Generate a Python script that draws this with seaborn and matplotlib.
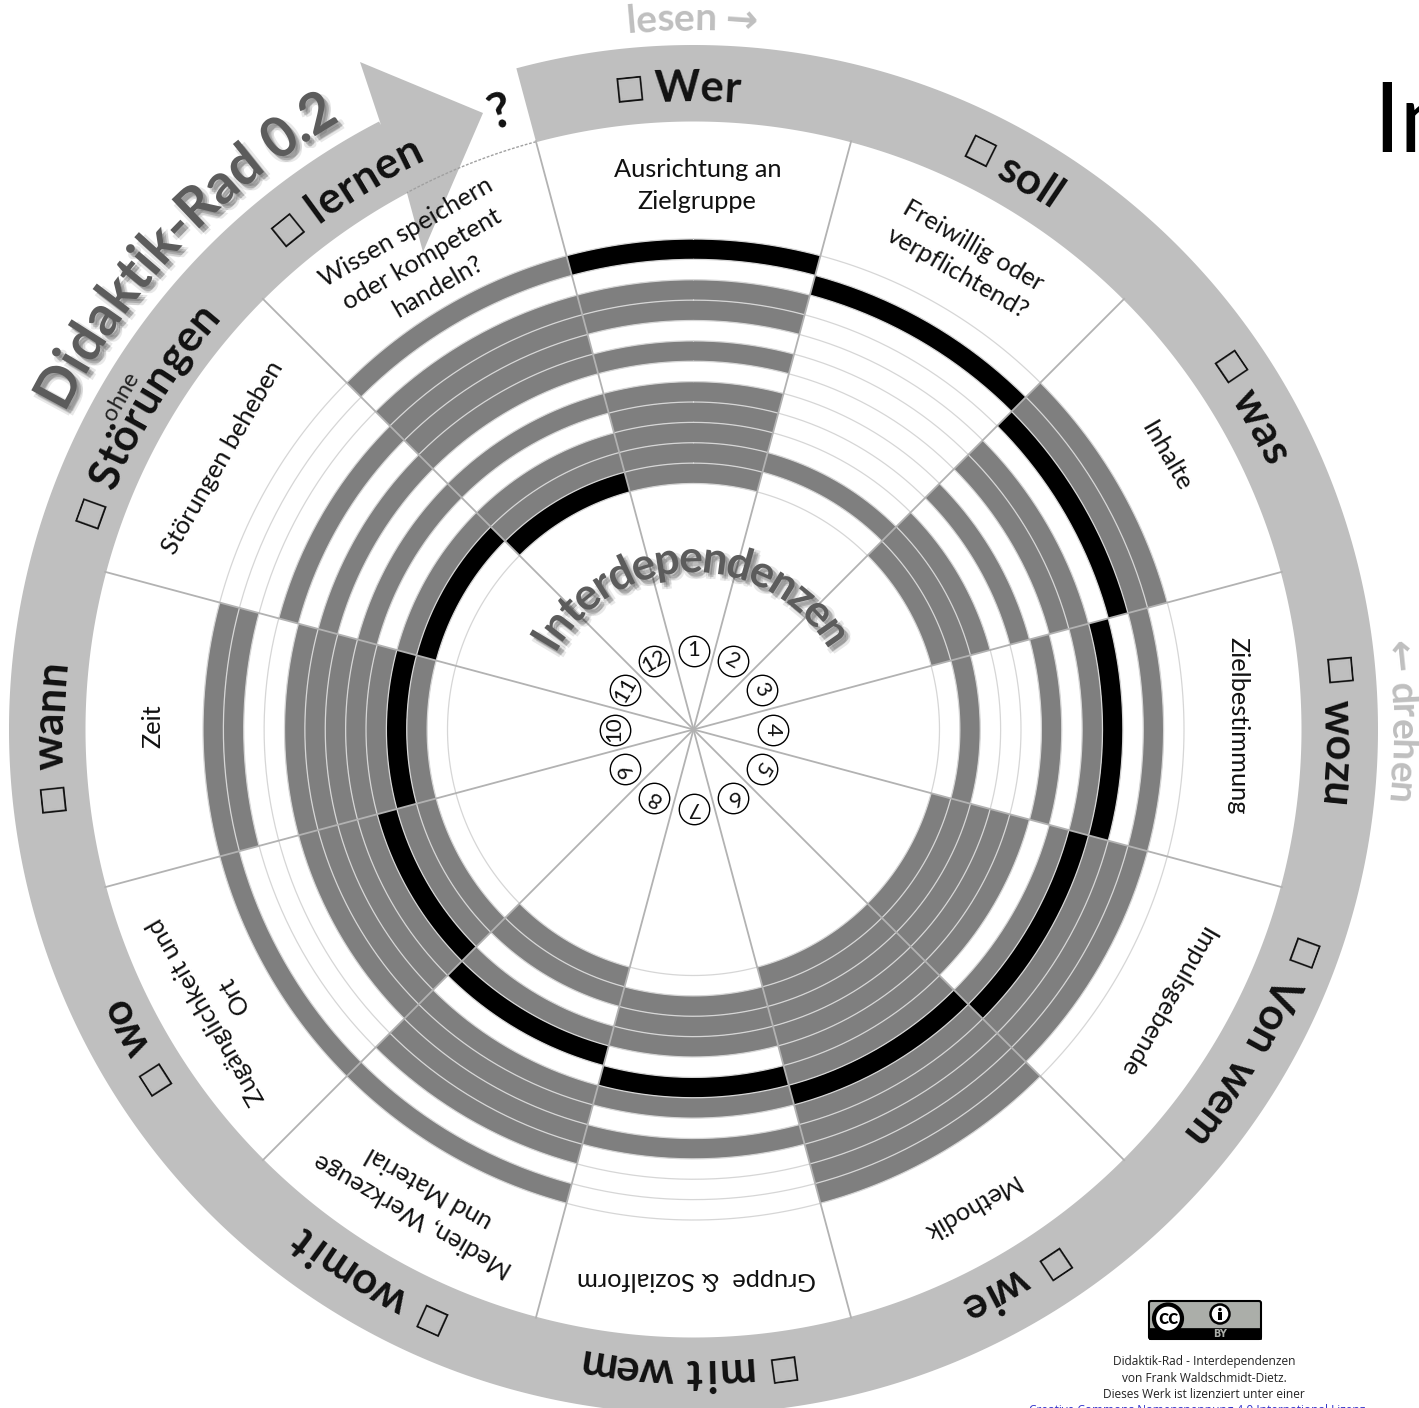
import numpy as np
import pandas as pd
import matplotlib
matplotlib.use("Agg")
import matplotlib.pyplot as plt
import matplotlib.patheffects as pe
from matplotlib.patches import FancyBboxPatch, Circle, Rectangle
from matplotlib import font_manager as fm
from matplotlib.ft2font import LoadFlags
import seaborn as sns

# ---------- data ----------
sector_keys = ["Wer", "soll", "was", "wozu", "Von wem", "wie", "mit wem", "womit", "wo", "wann", "Störungen", "lernen"]
sector_texts = ["Ausrichtung an\nZielgruppe", "Freiwillig oder\nverpflichtend?", "Inhalte", "Zielbestimmung",
                "Impulsgebende", "Methodik", "Gruppe  & Sozialform", "Medien, Werkzeuge\nund Material",
                "Zugänglichkeit und\nOrt", "Zeit", "Störungen beheben", "Wissen speichern\noder kompetent\nhandeln?"]
# ring 0 = outermost ... ring 11 = innermost; 0 none, 1 related (grey), 2 self (black)
wer     = [2, 0, 1, 1, 0, 1, 0, 1, 1, 1, 1, 1]
soll    = [0, 2, 0, 0, 0, 0, 0, 0, 0, 0, 1, 0]
was     = [1, 1, 2, 0, 1, 1, 0, 1, 0, 1, 1, 1]
wozu    = [0, 1, 0, 2, 1, 0, 1, 0, 0, 0, 1, 0]
von_wem = [0, 1, 1, 1, 2, 1, 0, 1, 1, 1, 1, 1]
wie     = [1, 1, 1, 1, 1, 2, 1, 1, 1, 1, 1, 1]
mit_wem = [0, 0, 0, 1, 0, 1, 2, 0, 1, 1, 1, 0]
womit   = [1, 0, 1, 1, 1, 1, 0, 2, 1, 0, 1, 1]
wo      = [1, 0, 0, 0, 1, 1, 1, 1, 2, 1, 1, 0]
wann    = [1, 1, 0, 0, 1, 1, 1, 1, 1, 2, 1, 0]
stoer   = [0, 0, 0, 1, 0, 1, 0, 1, 0, 1, 2, 0]
lernen  = [1, 0, 1, 1, 1, 1, 0, 1, 0, 1, 1, 2]
matrix = [wer, soll, was, wozu, von_wem, wie, mit_wem, womit, wo, wann, stoer, lernen]
badge_numbers = list(range(1, 13))

# ---------- set-up ----------
W, H = 1419, 1408
CX, CY, RMAX = 693.5, 729.5, 760
sns.set_theme(style="white")
plt.rcParams["font.family"] = ["Lato", "DejaVu Sans"]
DPI = 100
fig = plt.figure(figsize=(W / DPI, H / DPI), dpi=DPI, facecolor="white")
ax = fig.add_axes([(CX - RMAX) / W, (H - CY - RMAX) / H, 2 * RMAX / W, 2 * RMAX / H], projection="polar")
ax.set_theta_zero_location("N")
ax.set_theta_direction(-1)

GREY, BLACK, BAND, SPOKE, GRID = "#7f7f7f", "#000000", "#bfbfbf", "#b2b2b2", "#d6d6d6"
R_OUT, R_IN, N = 490.5, 246.0, 12
RW = (R_OUT - R_IN) / N


def polar_of(x, y):
    dx, dy = x - CX, y - CY
    return np.degrees(np.arctan2(dx, -dy)) % 360, np.hypot(dx, dy)


# outer band with arrow head
t1 = np.linspace(-15, 332.65, 700)
head = [polar_of(*p) for p in [(381, 125), (360, 62), (483, 113), (423, 252), (407, 193)]]
t2 = np.linspace(head[-1][0], -15, 700)
band_t = np.r_[t1, [h[0] for h in head], t2]
band_r = np.r_[np.full(700, 684.5), [h[1] for h in head], np.full(700, 608.0)]
ax.fill(np.radians(band_t), band_r, color=BAND, lw=0, zorder=1)
gap = np.linspace(-15, head[-1][0] - 360, 40)
ax.plot(np.radians(gap), np.full(40, 608.5), color="#a0a0a0", lw=1.0, ls=(0, (2, 1.2)), zorder=1.2)

# interdependency rings from the matrix
long = pd.DataFrame([(s, r, v) for s, row in enumerate(matrix) for r, v in enumerate(row)],
                    columns=["sector", "ring", "value"])
for row in long.itertuples():
    if row.value:
        ax.bar(np.radians(row.sector * 30), RW, width=np.radians(30), bottom=R_OUT - (row.ring + 1) * RW,
               color=GREY if row.value == 1 else BLACK, lw=0, zorder=2)
# thin ring lines
tt = np.linspace(0, 2 * np.pi, 720)
for i in range(N + 1):
    ax.plot(tt, np.full_like(tt, R_OUT - i * RW), color=GRID, lw=0.9, zorder=3)
# spokes
for s in range(N):
    a = np.radians(15 + 30 * s)
    ax.plot([a, a], [0, 610], color=SPOKE, lw=1.3, zorder=4, solid_capstyle="butt")

# numbered badges with seaborn
badges = pd.DataFrame({"theta": np.radians(np.arange(N) * 30.0), "r": np.full(N, 79.0), "n": badge_numbers})
sns.scatterplot(data=badges, x="theta", y="r", ax=ax, s=480, color="white", edgecolor="black", linewidth=1.0,
                zorder=5, legend=False, clip_on=False)
for row in badges.itertuples():
    d = np.degrees(row.theta)
    ax.text(row.theta, row.r, str(row.n), rotation=-d, rotation_mode="anchor", ha="center", va="center",
            fontsize=16, color="#111111", zorder=6)

# sector texts
text_r = [544, 543, 546, 544, 546, 552, 550, 545, 547, 541, 544, 543]
text_dt = [0.4, 0, 0, -0.4, 0, 0, -0.3, 0, 0, 0.3, 0, 0]
for s, (t, r, dt) in enumerate(zip(sector_texts, text_r, text_dt)):
    ax.text(np.radians(s * 30 + dt), r, t, rotation=-s * 30, rotation_mode="anchor", ha="center", va="center",
            multialignment="center", fontsize=18.3, color="#111111", zorder=6, linespacing=1.45)


def adv(ch, fp):
    f = fm.get_font(fm.findfont(fp))
    f.set_size(fp.get_size_in_points(), 72)
    g = f.load_char(ord(ch), flags=LoadFlags.NO_HINTING)
    return g.linearHoriAdvance / 65536 * DPI / 72


def arc_text(s, r_c, theta, size, weight="bold", color="#111111", effects=None, zorder=7, track=0.0):
    """One string bent around the wheel, clockwise; r_c is the radius of the glyph middle."""
    px = size * DPI / 72
    base = r_c - 0.33 * px
    items = []
    for ch in s:
        lift = 0.0
        if ch == "□":
            fp = fm.FontProperties(family="DejaVu Sans", weight="bold", size=size * 0.74)
            lift = 7.0
        elif ch in "→←":
            fp = fm.FontProperties(family="DejaVu Sans", weight="bold", size=size)
        else:
            fp = fm.FontProperties(family="Lato", weight=weight, size=size)
        items.append((ch, fp, adv(ch, fp) + track, lift))
    total = sum(i[2] for i in items)
    pos = -total / 2
    for ch, fp, w, lift in items:
        d = theta + np.degrees((pos + w / 2) / r_c)
        pos += w
        if ch != " ":
            t = ax.text(np.radians(d), base + lift, ch, rotation=-d, rotation_mode="anchor", ha="center", va="baseline",
                        fontproperties=fp, color=color, zorder=zorder, clip_on=False)
            if effects:
                t.set_path_effects(effects)


# band labels
band_labels = ["□ Wer", "□ soll", "□ was", "□ wozu", "□ Von wem", "□ wie", "□ mit wem", "□ womit", "□ wo", "□ wann",
               "□ Störungen", "□ lernen"]
band_theta = [-1.5, 29.7, 60, 90.2, 119.3, 150, 180.7, 210.5, 240.5, 269.4, 299.8, 327.2]
band_r2 = [643, 644, 645, 645, 646, 642, 644, 645, 642, 645, 641, 644]
band_track = [0, 0, 1, 1, 1, 1, 1, 1, 0, 1, 1, 1]
for lab, d, r, tr in zip(band_labels, band_theta, band_r2, band_track):
    arc_text(lab, r, d, 31.5, track=tr)
arc_text("ohne", 664, 300.2, 17, weight="normal", color="#222222")
arc_text("?", 648, -17.4, 36, color="#111111")
arc_text("lesen →", 712, -0.1, 28, color=BAND)
arc_text("← drehen", 710, 89.4, 28, color=BAND)


def shadow(dx=3.0, dy=-3.0):
    fx = []
    for ox, oy in [(-1.5, 1.5), (1.5, 1.5), (1.5, -1.5), (-1.5, -1.5), (0, 0), (0, 0)]:
        fx.append(pe.SimplePatchShadow(offset=(dx + ox, dy + oy), shadow_rgbFace="#000000", alpha=0.09))
    fx.append(pe.Normal())
    return fx


arc_text("Didaktik-Rad 0.2", 722, 313.3, 40, color="#5c5c5c", effects=shadow())
arc_text("Interdependenzen", 172, -1.0, 32, color="#5c5c5c", effects=shadow())

ax.set_rlim(0, RMAX)
ax.set_axis_off()

# ---------- pixel overlay: title fragment, licence ----------
ov = fig.add_axes([0, 0, 1, 1], facecolor="none")
ov.set_xlim(0, W)
ov.set_ylim(H, 0)
ov.set_axis_off()
ov.text(1373, 152, "In", fontsize=69, family="Lato", color="#000000", va="baseline", ha="left")

ov.add_patch(FancyBboxPatch((1149, 1301), 112, 38, boxstyle="round,pad=0,rounding_size=2", fc="#abaea9", ec="black", lw=1.5))
ov.add_patch(Rectangle((1149, 1328), 112, 11, fc="black", ec="black", lw=0.5))
ov.add_patch(Circle((1168, 1318.5), 14, fc="white", ec="black", lw=3))
ov.text(1168, 1318, "cc", fontsize=15, weight="bold", family="Lato", ha="center", va="center", color="black")
ov.add_patch(Circle((1220, 1314), 9.5, fc="white", ec="black", lw=1.8))
ov.add_patch(Circle((1220, 1309.5), 1.7, fc="black", ec="none"))
ov.add_patch(Rectangle((1218, 1312), 4, 8, fc="black", ec="none"))
ov.text(1220, 1334, "BY", fontsize=7, weight="bold", family="DejaVu Sans", ha="center", va="center", color="#abaea9")
for y, line in zip([1361, 1378, 1395], ["Didaktik-Rad - Interdependenzen", "von Frank Waldschmidt-Dietz.",
                                        "Dieses Werk ist lizenziert unter einer"]):
    ov.text(1204, y, line, fontsize=8.6, family="Open Sans", ha="center", va="center", color="#222222")
ov.text(1197, 1410.5, "Creative Commons Namensnennung 4.0 International Lizenz", fontsize=8.6, family="Open Sans",
        ha="center", va="center", color="#3333cc")

fig.savefig("out.png", dpi=DPI, facecolor="white")
